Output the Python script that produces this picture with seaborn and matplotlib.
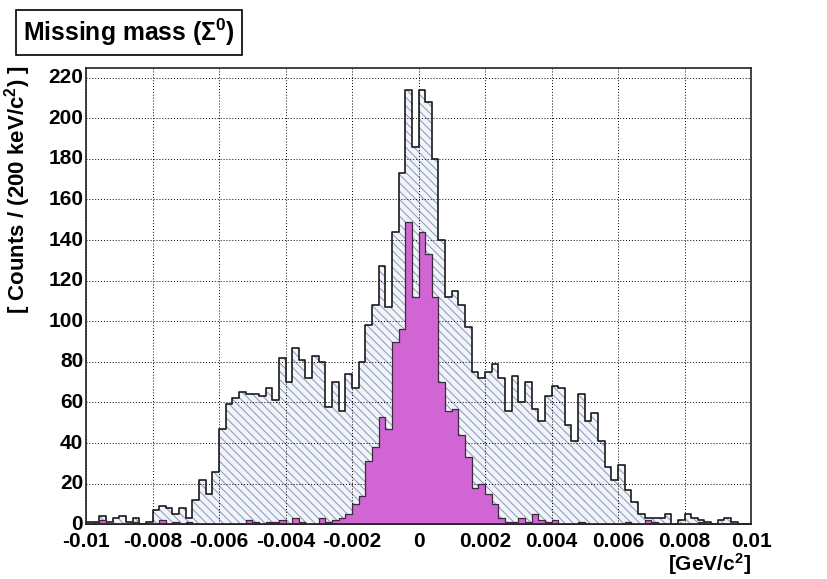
import numpy as np
import pandas as pd
import matplotlib
matplotlib.use("Agg")
import matplotlib.pyplot as plt
import matplotlib.transforms as mtransforms
import seaborn as sns
from matplotlib.ticker import MultipleLocator

# ---- data (100 bins of 200 keV from -0.01 to 0.01 GeV/c^2) ----
x_min, x_max, n_bins = -0.01, 0.01, 100
counts_all = [1, 1, 4, 1, 3, 4, 1, 3, 0, 1,
              7, 9, 8, 5, 8, 3, 12, 22, 15, 26,
              47, 59, 62, 65, 64, 64, 63, 67, 61, 82,
              70, 87, 81, 72, 83, 80, 58, 70, 56, 74,
              67, 80, 98, 108, 127, 107, 144, 173, 214, 186,
              214, 208, 180, 140, 112, 115, 108, 97, 75, 72,
              75, 79, 72, 56, 73, 60, 70, 57, 51, 63,
              68, 67, 49, 41, 64, 51, 55, 41, 28, 22,
              29, 17, 11, 5, 3, 3, 3, 5, 0, 2,
              5, 3, 2, 1, 0, 2, 3, 1, 0, 0]
counts_sel = [0, 1, 2, 0, 0, 0, 0, 1, 0, 0,
              0, 2, 0, 1, 0, 1, 0, 0, 0, 0,
              0, 0, 0, 0, 2, 1, 0, 1, 1, 2,
              0, 3, 1, 0, 0, 3, 1, 2, 3, 5,
              10, 14, 31, 38, 53, 47, 90, 96, 149, 112,
              144, 133, 112, 70, 56, 57, 44, 33, 18, 20,
              15, 10, 3, 1, 1, 3, 1, 5, 2, 1,
              2, 0, 0, 0, 1, 0, 0, 0, 0, 0,
              0, 1, 0, 0, 2, 1, 0, 0, 0, 0,
              0, 0, 1, 0, 0, 0, 0, 0, 0, 0]
x_tick_labels = ["-0.01", "-0.008", "-0.006", "-0.004", "-0.002", "0",
                 "0.002", "0.004", "0.006", "0.008", "0.01"]
title = r"Missing mass ($\Sigma^{0}$)"
ylabel = r"[ Counts / (200 keV/c$^{2}$) ]"
xlabel = r"[GeV/c$^{2}$]"

edges = np.linspace(x_min, x_max, n_bins + 1)
centers = 0.5 * (edges[:-1] + edges[1:])
df = pd.DataFrame({"mass": centers,
                   "all": np.asarray(counts_all, float),
                   "sel": np.asarray(counts_sel, float)})

sns.set_theme(style="white")
plt.rcParams["font.family"] = ["Liberation Sans", "DejaVu Sans"]
plt.rcParams["font.weight"] = "bold"
plt.rcParams["text.color"] = "black"
plt.rcParams["axes.labelcolor"] = "black"
plt.rcParams["xtick.color"] = "black"
plt.rcParams["ytick.color"] = "black"
plt.rcParams["mathtext.fontset"] = "custom"
plt.rcParams["mathtext.rm"] = "Liberation Sans:bold"
plt.rcParams["mathtext.it"] = "Liberation Sans:bold"
plt.rcParams["mathtext.bf"] = "Liberation Sans:bold"
plt.rcParams["mathtext.default"] = "rm"
plt.rcParams["hatch.color"] = "#8c95b3"
plt.rcParams["hatch.linewidth"] = 0.7

fig = plt.figure(figsize=(8.27, 5.79), dpi=100)
ax = fig.add_axes([86 / 827, 1 - 524.3 / 579, 665 / 827, (524.3 - 68) / 579])

hist_kw = dict(data=df, x="mass", bins=n_bins, binrange=(x_min, x_max),
               element="step", ax=ax)
# hatched fill of the full sample
sns.histplot(weights="all", fill=True, facecolor="#f1f4fa",
             edgecolor="#8c95b3", linewidth=0, alpha=1, hatch="\\\\\\\\",
             zorder=2, **hist_kw)
# outline of the full sample
sns.histplot(weights="all", fill=False, color="#1a1a1a", linewidth=1.2,
             zorder=3, **hist_kw)
# selected sample
sns.histplot(weights="sel", fill=True, facecolor="#d065d3",
             edgecolor="#3a2a3a", linewidth=0.9, alpha=1, zorder=4, **hist_kw)

ax.set_xlim(x_min, x_max)
ax.set_ylim(0, 224.7)
ax.set_xticks(np.linspace(x_min, x_max, len(x_tick_labels)))
ax.set_xticklabels(x_tick_labels)
ax.xaxis.set_minor_locator(MultipleLocator(0.0005))
ax.yaxis.set_major_locator(MultipleLocator(20))
ax.yaxis.set_minor_locator(MultipleLocator(5))

ax.tick_params(axis="both", which="both", direction="in", colors="black",
               labelcolor="black", labelsize=15, top=False, right=False)
ax.tick_params(axis="x", which="major", length=9, width=1, pad=5.5)
ax.tick_params(axis="x", which="minor", length=4.5, width=1)
ax.tick_params(axis="y", which="major", length=14, width=1, pad=2)
ax.tick_params(axis="y", which="minor", length=7.5, width=1)
for lab in ax.get_xticklabels() + ax.get_yticklabels():
    lab.set_fontweight("bold")
# nudge y tick labels up slightly (as in the reference)
shift = mtransforms.ScaledTranslation(0, 2 / 100, fig.dpi_scale_trans)
for lab in ax.get_yticklabels():
    lab.set_transform(lab.get_transform() + shift)

ax.grid(True, which="major", linestyle=(0, (1, 2)), color="black", linewidth=0.7)
ax.set_axisbelow(False)
for s in ax.spines.values():
    s.set_color("#222222")
    s.set_linewidth(1.2)
    s.set_zorder(6)

ax.set_xlabel("")
ax.set_ylabel(ylabel, fontsize=16, fontweight="bold", labelpad=0, color="black")
ax.yaxis.set_label_coords(-0.079, 0.733)

fig.text(751 / 827, 1 - 564 / 579, xlabel, ha="right", va="center",
         fontsize=15, fontweight="bold", color="black")
fig.text(23 / 827, 1 - 32.5 / 579, title, ha="left", va="center",
         fontsize=17.8, fontweight="bold", color="black",
         bbox=dict(boxstyle="square,pad=0.28", facecolor="white",
                   edgecolor="black", linewidth=1.2))

fig.savefig("out.png", dpi=100)
